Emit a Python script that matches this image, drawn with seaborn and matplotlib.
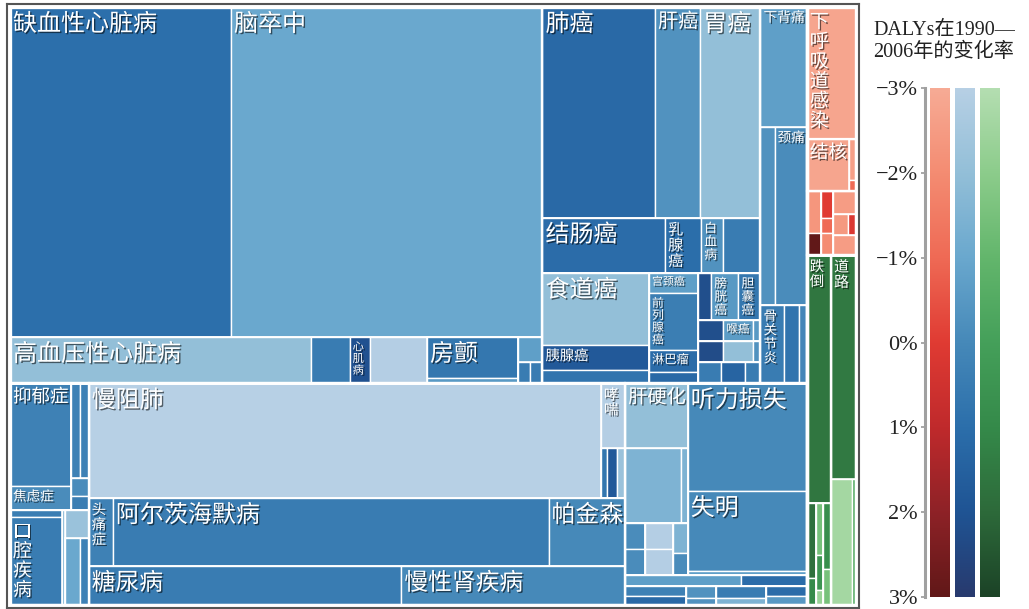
import matplotlib
matplotlib.use("Agg")
import matplotlib.pyplot as plt
import matplotlib.patheffects as pe
from matplotlib.patches import Rectangle
import numpy as np
import seaborn as sns

sns.set_theme(style="white")
plt.rcParams["font.family"] = ["Noto Sans CJK SC", "DejaVu Sans"]

# each leaf: (label, DALYs, change in % per year 1990-2006)
# cardiovascular
cardio_main = [("缺血性心脏病", 72380, 1.0), ("脑卒中", 101990, -1.0)]
cardio_minor = [("高血压性心脏病", 13800, -2.0), ("", 1748, 0.5), ("心肌病", 920, 2.1), ("", 2622, -2.9)]
afib = [("房颤", 3731, 0.7), ("", 455, -0.5)]
cardio_misc_top = [("", 600, -0.7)]
cardio_misc_bottom = [("", 252, 0.5), ("", 252, 0.5)]

# cancers
cancer_row1 = [("肺癌", 23520, 1.2), ("肝癌", 9450, -0.3), ("胃癌", 12600, -2.0)]
cancer_row2 = [("结肠癌", 6710, 1.1), ("乳腺癌", 1980, 1.05), ("白血病", 1210, -0.3), ("", 2035, 0.5)]
cancer_col_a = [("食道癌", 7632, -2.0), ("胰腺癌", 2650, 1.8), ("", 1378, 0.8)]
cancer_col_b = [("宫颈癌", 980, -0.7), ("前列腺癌", 2793, 0.4), ("淋巴瘤", 1078, 1.1), ("", 539, 1.2)]
cancer_c1 = [("", 611, 2.2), ("膀胱癌", 1269, -0.5), ("胆囊癌", 1034, 0.7)]
cancer_c2 = [("", 525, 2.2), ("喉癌", 630, -0.6), ("", 147, -0.5)]
cancer_c3 = [("", 525, 2.3), ("", 630, -2.0), ("", 147, -0.3)]
cancer_c4 = [("", 483, 0.5), ("", 504, 1.4), ("", 315, 0.5)]

# musculoskeletal
msk_top = [("下背痛", 5520, -0.7)]
msk_mid = [("", 2478, -0.3), ("颈痛", 5664, -0.1)]
msk_bottom = [("骨关节炎", 1794, 0.5), ("", 1170, 0.8), ("", 624, 0.1)]

# mental / oral
mental_main = [("抑郁症", 6180, 0.3), ("焦虑症", 1440, -0.1)]
mental_thin = [("", 855, 0.3), ("", 855, 0.3)]
mental_small = [("", 324, -0.1), ("", 252, 0.4)]
oral_main = [("", 364, 0.4), ("口腔疾病", 4576, 0.5)]
oral_gap = [("", 285, -1.5)]
oral_side_top = [("", 644, -2.2)]
oral_side_bottom = [("", 938, -1.0), ("", 603, 0.3)]

# respiratory / neuro / metabolic
copd = [("慢阻肺", 58420, -3.0)]
asthma = [("哮喘", 1560, -2.9)]
resp_small = [("", 300, 0.7), ("", 500, 1.8), ("", 400, -2.2)]
neuro = [("头痛症", 1632, 0.3), ("阿尔茨海默病", 29376, 0.5), ("帕金森", 5168, 0.0)]
metabolic = [("糖尿病", 12090, 0.5), ("慢性肾疾病", 8658, 0.0)]

# digestive / sense organs / other
digest_top = [("肝硬化", 4030, -2.0)]
digest_mid = [("", 4125, -1.5), ("", 525, -1.5)]
digest_grid_a = [("", 520, -0.1), ("", 520, -0.1)]
digest_grid_b = [("", 702, -2.9), ("", 702, -2.9)]
digest_grid_c = [("", 450, -1.5), ("", 330, -0.1)]
sense = [("听力损失", 12744, 0.0), ("失明", 9440, 0.0), ("", 472, -0.7)]
misc_strip = [("", 1265, -0.7), ("", 715, 1.1)]
misc_bottom_a = [("", 600, 0.3), ("", 540, 1.2)]
misc_bottom_b = [("", 360, -0.3), ("", 210, -0.3)]
misc_bottom_c = [("", 600, 0.5), ("", 350, -1.5)]
misc_bottom_d = [("", 400, 1.1), ("", 360, -0.5)]

# communicable (red)
lri = [("下呼吸道感染", 6450, -2.8)]
tb = [("结核", 2193, -2.8)]
tb_side = [("", 280, -2.6), ("", 77, -1.0)]
comm_a = [("", 602, -2.3), ("", 308, 3.0)]
comm_b = [("", 336, 0.0), ("", 180, -1.0), ("", 264, -2.0)]
comm_c_top = [("", 506, -2.5)]
comm_c_mid = [("", 308, -2.4), ("", 176, 0.2)]
comm_c_bottom = [("", 440, -2.5)]

# injuries (green)
falls = [("跌倒", 6000, 1.6)]
inj_a = [("", 656, 1.8), ("", 240, 1.0)]
inj_b = [("", 399, -1.5), ("", 266, 0.5), ("", 119, -2.3)]
inj_c = [("", 511, 0.8), ("", 273, -1.5)]
road = [("道路", 5550, 1.5)]
road_side = [("", 2600, -2.6), ("", 520, -0.5)]

blue_stops = ["#b7d0e5", "#93bfd8", "#6aa8ce", "#4689b9", "#2c6fab", "#1f5494", "#283a6e"]
red_stops = ["#f7ab95", "#f48c72", "#ef6a55", "#e03b33", "#c02a2c", "#8e2227", "#611818"]
green_stops = ["#b4deb1", "#8ccc8b", "#63b66c", "#45a05a", "#358a4a", "#2d6a3a", "#1c4327"]
cmaps = {
    "blue": sns.blend_palette(blue_stops, as_cmap=True),
    "red": sns.blend_palette(red_stops, as_cmap=True),
    "green": sns.blend_palette(green_stops, as_cmap=True),
}


def H(*kids, pal=None):
    return ("h", list(kids), pal)


def V(*kids, pal=None):
    return ("v", list(kids), pal)


def is_group(node):
    return isinstance(node[1], list)


def total(node):
    if is_group(node):
        return sum(total(k) for k in node[1])
    return node[1]


def layout(node, x, y, w, h, depth, pal, leaves, groups):
    if not is_group(node):
        leaves.append((node, x, y, w, h, pal))
        return
    pal = node[2] or pal
    groups.append((x, y, w, h, depth))
    s = sum(total(k) for k in node[1])
    pos = x if node[0] == "h" else y
    for k in node[1]:
        f = total(k) / s
        if node[0] == "h":
            layout(k, pos, y, w * f, h, depth + 1, pal, leaves, groups)
            pos += w * f
        else:
            layout(k, x, pos, w, h * f, depth + 1, pal, leaves, groups)
            pos += h * f


blue = V(
    H(
        V(H(*cardio_main),
          H(*cardio_minor, V(*afib), V(*cardio_misc_top, H(*cardio_misc_bottom)))),
        V(H(*cancer_row1), H(*cancer_row2),
          H(V(*cancer_col_a), V(*cancer_col_b),
            V(H(*cancer_c1), H(*cancer_c2), H(*cancer_c3), H(*cancer_c4)))),
        V(*msk_top, H(*msk_mid), H(*msk_bottom)),
    ),
    H(
        V(H(V(*mental_main), V(H(*mental_thin), *mental_small)),
          H(V(*oral_main), *oral_gap, V(*oral_side_top, H(*oral_side_bottom)))),
        V(H(*copd, V(*asthma, H(*resp_small))), H(*neuro), H(*metabolic)),
        V(H(V(*digest_top, H(*digest_mid),
              H(V(*digest_grid_a), V(*digest_grid_b), V(*digest_grid_c))),
            V(*sense)),
          H(*misc_strip),
          H(V(*misc_bottom_a), V(*misc_bottom_b), V(*misc_bottom_c), V(*misc_bottom_d))),
    ),
    pal="blue",
)
red = V(*lri, H(*tb, V(*tb_side)),
        H(V(*comm_a), V(*comm_b), V(*comm_c_top, H(*comm_c_mid), *comm_c_bottom)),
        pal="red")
green = H(V(*falls, H(V(*inj_a), V(*inj_b), V(*inj_c))), V(*road, H(*road_side)), pal="green")
root = H(blue, V(red, green))

W, HGT = 852, 604
fig = plt.figure(figsize=(10.29, 6.09), dpi=100)
ax = fig.add_axes([7 / 1029, 1 / 609, W / 1029, HGT / 609])
ax.set_xlim(0, W)
ax.set_ylim(HGT, 0)
ax.set_xticks([])
ax.set_yticks([])
for sp in ax.spines.values():
    sp.set_color("#555555")
    sp.set_linewidth(1.5)

leaves, groups = [], []
layout(root, 3, 3, W - 6, HGT - 6, 0, None, leaves, groups)

shadow = [pe.withSimplePatchShadow(offset=(1, -1), shadow_rgbFace="black", alpha=0.55)]
for (name, val, chg), x, y, w, h, pal in leaves:
    color = cmaps[pal]((chg + 3) / 6)
    ax.add_patch(Rectangle((x, y), w, h, facecolor=color, edgecolor="white", lw=1.0))
    if not name:
        continue
    n = len(name)
    sh = min(24, (w - 5) / n, (h - 4) * 0.68)
    sv = min(24, (w - 5) * 0.75, (h - 5) / (n * 1.1))
    if sh >= 12 or sh >= sv:
        if sh < 6:
            continue
        ax.text(x + 3, y + 2 + 0.92 * sh, name, color="white", fontsize=sh * 0.72,
                ha="left", va="baseline", path_effects=shadow)
    else:
        if sv < 6:
            continue
        for i, ch in enumerate(name):
            ax.text(x + 3, y + 3 + (i * 1.03 + 0.92) * sv, ch, color="white",
                    fontsize=sv * 0.72, ha="left", va="baseline", path_effects=shadow)

for x, y, w, h, depth in sorted(groups, key=lambda g: -g[4]):
    if depth == 0:
        continue
    lw = {1: 2.4, 2: 2.0, 3: 1.6}.get(depth, 1.1)
    ax.add_patch(Rectangle((x, y), w, h, fill=False, edgecolor="white", lw=lw))

# legend
ticks = [-3, -2, -1, 0, 1, 2, 3]
tick_labels = ["−3%", "−2%", "−1%", "0%", "1%", "2%", "3%"]
lax = fig.add_axes([925 / 1029, 12 / 609, 76 / 1029, 509 / 609])
grad = np.linspace(-3, 3, 256).reshape(-1, 1)
for i, key in enumerate(["red", "blue", "green"]):
    lax.imshow(grad, extent=(5 + 25 * i, 25 + 25 * i, 3, -3), cmap=cmaps[key],
               vmin=-3, vmax=3, aspect="auto", origin="upper")
lax.set_xlim(0, 76)
lax.set_ylim(3, -3)
lax.set_xticks([])
lax.set_yticks(ticks)
lax.set_yticklabels(tick_labels, family=["Liberation Serif", "DejaVu Serif"], fontsize=16, color="#222222")
lax.tick_params(axis="y", left=True, length=3, width=1.2, color="#9a9a9a", pad=2)
for key, sp in lax.spines.items():
    sp.set_visible(key == "left")
lax.spines["left"].set_color("#a0a0a0")
lax.spines["left"].set_linewidth(2.2)
lax.set_facecolor("none")

title_font = ["Liberation Serif", "Noto Sans CJK SC"]
fig.text(873 / 1029, 1 - 30 / 609, "DALYs在1990—", family=title_font, fontsize=14.5,
         color="#222222", va="center", ha="left")
fig.text(873 / 1029, 1 - 52 / 609, "2006年的变化率", family=title_font, fontsize=14.5,
         color="#222222", va="center", ha="left")

fig.savefig("out.png", dpi=100)
